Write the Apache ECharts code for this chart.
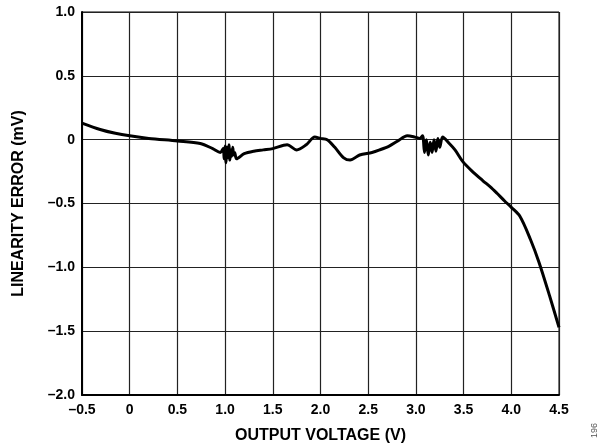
<!DOCTYPE html>
<html><head><meta charset="utf-8">
<script src="https://cdn.jsdelivr.net/npm/echarts@6/dist/echarts.min.js"></script>
<style>html,body{margin:0;padding:0;background:#fff}#c{width:608px;height:446px}</style>
</head><body><div id="c"></div>
<script>
// Output voltage (V)
const xValues = [-0.5,-0.31,-0.15,0.0,0.2,0.5,0.74,0.87,0.95,0.98,0.99,1.0,1.01,1.02,1.03,1.04,1.05,1.06,1.07,1.08,1.09,1.1,1.12,1.2,1.3,1.4,1.5,1.65,1.75,1.85,1.94,2.0,2.07,2.15,2.24,2.31,2.41,2.54,2.62,2.72,2.81,2.91,2.99,3.04,3.07,3.09,3.11,3.13,3.15,3.17,3.19,3.21,3.23,3.25,3.28,3.35,3.41,3.49,3.58,3.7,3.78,3.85,3.93,4.0,4.09,4.2,4.29,4.4,4.5];
// Linearity error (mV)
const yValues = [0.13,0.08,0.05,0.03,0.01,-0.01,-0.03,-0.07,-0.1,-0.07,-0.15,-0.05,-0.18,-0.06,-0.14,-0.04,-0.16,-0.08,-0.13,-0.06,-0.12,-0.1,-0.15,-0.11,-0.09,-0.08,-0.07,-0.04,-0.08,-0.04,0.02,0.01,0.0,-0.06,-0.14,-0.16,-0.12,-0.1,-0.08,-0.05,-0.01,0.03,0.02,0.01,0.03,-0.1,0.0,-0.12,-0.02,-0.1,0.0,-0.09,0.01,-0.06,0.02,-0.03,-0.08,-0.17,-0.24,-0.32,-0.37,-0.42,-0.48,-0.53,-0.6,-0.78,-0.96,-1.22,-1.47];
const xTickLabels = {"-0.5":"–0.5","0":"0","0.5":"0.5","1":"1.0","1.5":"1.5","2":"2.0","2.5":"2.5","3":"3.0","3.5":"3.5","4":"4.0","4.5":"4.5"};
const yTickLabels = {"1":"1.0","0.5":"0.5","0":"0","-0.5":"–0.5","-1":"–1.0","-1.5":"–1.5","-2":"–2.0"};
const xTitle = "OUTPUT VOLTAGE (V)";
const yTitle = "LINEARITY ERROR (mV)";
const figId = "196";

const chart = echarts.init(document.getElementById('c'), null, {renderer:'canvas'});
const font = 'Liberation Sans, Arial, sans-serif';
chart.setOption({
  animation:false,
  backgroundColor:'#fff',
  grid:{left:82,right:49,top:12,bottom:51,containLabel:false,outerBoundsMode:'none',
    show:true,borderColor:'#000',borderWidth:1},
  xAxis:{type:'value',min:-0.5,max:4.5,interval:0.5,
    name:xTitle,nameLocation:'middle',nameGap:33,
    nameTextStyle:{fontFamily:font,fontWeight:'bold',fontSize:16,color:'#000'},
    axisLine:{show:true,onZero:false,lineStyle:{color:'#000',width:2}},
    axisTick:{show:false},
    axisLabel:{fontFamily:font,fontWeight:'bold',fontSize:14,color:'#000',margin:8,
      formatter:v=>xTickLabels[String(Math.round(v*10)/10)] ?? String(v)},
    splitLine:{show:true,lineStyle:{color:'#222',width:1.2}}},
  yAxis:{type:'value',min:-2,max:1,interval:0.5,
    name:yTitle,nameLocation:'middle',nameGap:55,nameRotate:90,
    nameTextStyle:{fontFamily:font,fontWeight:'bold',fontSize:16,color:'#000'},
    axisLine:{show:true,onZero:false,lineStyle:{color:'#000',width:2}},
    axisTick:{show:false},
    axisLabel:{fontFamily:font,fontWeight:'bold',fontSize:14,color:'#000',margin:7,
      formatter:v=>yTickLabels[String(Math.round(v*10)/10)] ?? String(v)},
    splitLine:{show:true,lineStyle:{color:'#222',width:1.2}}},
  graphic:[{type:'text',left:590,top:423,rotation:Math.PI/2,
    style:{text:figId,fill:'#555',font:'9px '+font}}],
  series:[{type:'line',data:xValues.map((x,i)=>[x,yValues[i]]),
    showSymbol:false,smooth:0.3,clip:false,
    lineStyle:{color:'#000',width:3}}]
});
</script></body></html>
